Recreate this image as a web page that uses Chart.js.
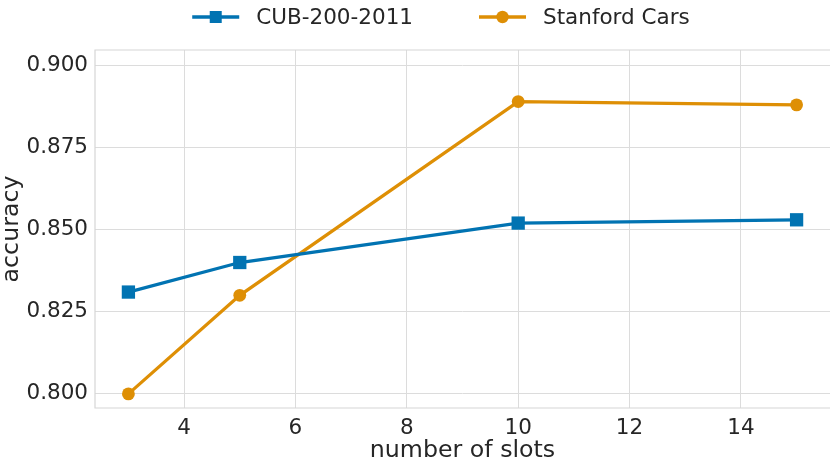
<!DOCTYPE html>
<html><head><meta charset="utf-8">
<script src="https://cdn.jsdelivr.net/npm/chart.js@4"></script>
<style>html,body{margin:0;padding:0;background:#fff;overflow:hidden}canvas{display:block}</style>
</head><body>
<canvas id="c" width="830" height="462"></canvas>
<script>
// ---- data ----
const slots = [3, 5, 10, 15];
const cubAccuracy = [0.831, 0.840, 0.852, 0.853];
const carsAccuracy = [0.800, 0.830, 0.889, 0.888];
const seriesNames = ['CUB-200-2011', 'Stanford Cars'];
const xTicks = [4, 6, 8, 10, 12, 14];
const yTicks = [0.800, 0.825, 0.850, 0.875, 0.900];
const xTitle = 'number of slots';
const yTitle = 'accuracy';

// ---- style ----
const FONT = '"DejaVu Sans", sans-serif';
const TXT = '#262626';
const GRID = '#dcdcdc';
const BLUE = '#0173b2';
const ORANGE = '#de8f05';

const toPoints = (xs, ys) => xs.map((x, i) => ({x, y: ys[i]}));

const plotBorder = {
  id: 'plotBorder',
  beforeDatasetsDraw(chart) {
    const {ctx, chartArea: a} = chart;
    ctx.save();
    ctx.strokeStyle = '#d6d6d6';
    ctx.lineWidth = 1.2;
    ctx.beginPath();
    ctx.moveTo(a.right + 1, a.top);
    ctx.lineTo(a.left, a.top);
    ctx.lineTo(a.left, a.bottom);
    ctx.lineTo(a.right + 1, a.bottom);
    ctx.stroke();
    ctx.restore();
  }
};

const lineLegend = {
  id: 'lineLegend',
  afterDraw(chart) {
    const ctx = chart.ctx;
    ctx.save();
    ctx.font = '21.5px ' + FONT;
    const iconW = 47, gapText = 17, gapItem = 66, cy = 17, centerX = 441;
    const items = chart.data.datasets.map(ds => ({
      text: ds.label, color: ds.borderColor, style: ds.pointStyle,
      w: ctx.measureText(ds.label).width
    }));
    let total = 0;
    items.forEach((it, i) => { total += iconW + gapText + it.w + (i ? gapItem : 0); });
    let x = centerX - total / 2;
    items.forEach(it => {
      ctx.strokeStyle = it.color; ctx.fillStyle = it.color; ctx.lineWidth = 3.3;
      ctx.beginPath(); ctx.moveTo(x, cy); ctx.lineTo(x + iconW, cy); ctx.stroke();
      const mx = x + iconW / 2;
      ctx.beginPath();
      if (it.style === 'rect') { ctx.rect(mx - 6, cy - 6, 12, 12); }
      else { ctx.arc(mx, cy, 6.2, 0, Math.PI * 2); }
      ctx.fill();
      ctx.fillStyle = TXT; ctx.textBaseline = 'middle'; ctx.textAlign = 'left';
      ctx.fillText(it.text, x + iconW + gapText, cy + 1);
      x += iconW + gapText + it.w + gapItem;
    });
    ctx.restore();
  }
};

new Chart(document.getElementById('c'), {
  type: 'line',
  data: {
    datasets: [
      {
        label: seriesNames[0], data: toPoints(slots, cubAccuracy),
        borderColor: BLUE, backgroundColor: BLUE, borderWidth: 3.3,
        pointStyle: 'rect', pointRadius: 9.4, pointHoverRadius: 9.4,
        pointBorderWidth: 0, pointBackgroundColor: BLUE, tension: 0
      },
      {
        label: seriesNames[1], data: toPoints(slots, carsAccuracy),
        borderColor: ORANGE, backgroundColor: ORANGE, borderWidth: 3.3,
        pointStyle: 'circle', pointRadius: 6.4, pointHoverRadius: 6.4,
        pointBorderWidth: 0, pointBackgroundColor: ORANGE, tension: 0
      }
    ]
  },
  options: {
    responsive: false,
    animation: false,
    devicePixelRatio: 1,
    layout: {autoPadding: false, padding: {top: 50, right: 0, bottom: 0, left: 0}},
    plugins: {legend: {display: false}, tooltip: {enabled: false}},
    scales: {
      x: {
        type: 'linear', min: 2.4, max: 15.6,
        afterBuildTicks: s => { s.ticks = xTicks.map(v => ({value: v})); },
        afterFit: s => { s.height = 54; s.paddingLeft = 0; s.paddingRight = 0; },
        grid: {color: GRID, lineWidth: 1, drawTicks: false},
        border: {display: false},
        ticks: {color: TXT, font: {family: FONT, size: 21.5}, padding: 8,
                callback: v => String(v), maxRotation: 0},
        title: {display: true, text: xTitle, color: TXT,
                font: {family: FONT, size: 23.7, lineHeight: 1}, padding: {top: 0, bottom: -1}}
      },
      y: {
        type: 'linear', min: 0.7957, max: 0.9047,
        afterBuildTicks: s => { s.ticks = yTicks.map(v => ({value: v})); },
        afterFit: s => { s.width = 95; s.paddingTop = 0; s.paddingBottom = 0; },
        grid: {color: GRID, lineWidth: 1, drawTicks: false},
        border: {display: false},
        ticks: {color: TXT, font: {family: FONT, size: 21.5}, padding: 7,
                callback: v => Number(v).toFixed(3)},
        title: {display: true, text: yTitle, color: TXT,
                font: {family: FONT, size: 23.7, lineHeight: 1}, padding: {top: 0, bottom: 0}}
      }
    }
  },
  plugins: [plotBorder, lineLegend]
});
</script>
</body></html>
